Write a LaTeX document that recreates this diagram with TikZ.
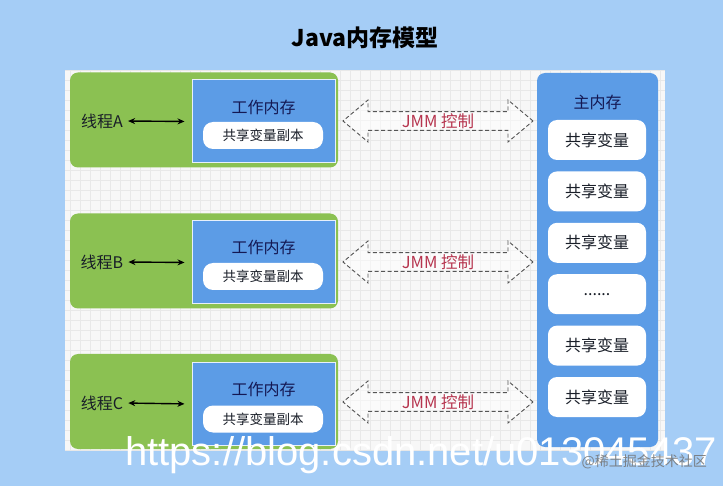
\documentclass[tikz,border=0pt]{standalone}
\usepackage{fontspec}
\setmainfont{Noto Sans CJK SC}
\newfontfamily\urlfont{Liberation Sans}
\usetikzlibrary{shapes.arrows, arrows.meta}

\definecolor{bgblue}{RGB}{165,205,246}
\definecolor{panelgray}{RGB}{247,247,247}
\definecolor{gridgray}{RGB}{232,232,232}
\definecolor{threadgreen}{RGB}{139,193,82}
\definecolor{memblue}{RGB}{92,156,230}
\definecolor{jmmred}{RGB}{182,52,78}
\definecolor{dashgray}{RGB}{85,85,85}
\definecolor{inktext}{RGB}{25,30,40}

\begin{document}
\begin{tikzpicture}[
            x=1pt, y=-1pt, >={Stealth[length=7pt, width=6pt]},
            threadbox/.style={rectangle, fill=threadgreen, minimum width=268pt, minimum height=95pt, rounded corners=8pt},
            threadlabel/.style={font=\fontsize{16}{16}\selectfont, text=inktext, inner sep=1pt},
            workmem/.style={rectangle, draw=white!85!memblue, line width=1pt, fill=memblue, minimum width=143pt, minimum height=83pt},
            memtitle/.style={font=\fontsize{16}{16}\selectfont, text=inktext!80!blue},
            copybox/.style={rectangle, fill=white, minimum width=120pt, minimum height=27pt, rounded corners=10pt, font=\fontsize{13.5}{13.5}\selectfont, text=inktext},
            mainmem/.style={rectangle, fill=memblue, minimum width=121pt, minimum height=374pt, rounded corners=8pt},
            varbox/.style={rectangle, fill=white, minimum width=98pt, minimum height=40pt, rounded corners=9pt, font=\fontsize{16}{16}\selectfont, text=inktext},
            jmmarrow/.style={double arrow, draw=dashgray, line width=0.9pt, dash pattern=on 4pt off 2.5pt, fill=white, fill opacity=0.5, text opacity=1, minimum height=190pt, minimum width=42pt, double arrow head extend=10pt, double arrow tip angle=80, inner sep=0pt, font=\fontsize{16.5}{16.5}\selectfont, text=jmmred},
            syncarrow/.style={<->, line width=1.4pt, shorten <=4pt, shorten >=7pt},
            title/.style={font=\fontsize{23}{23}\selectfont\bfseries, text=black}
        ]

        % ==========================================
        % BACKGROUND AND GRID PANEL
        % ==========================================
        \fill[bgblue] (0,0) rectangle (723,486);
        \useasboundingbox (0,0) rectangle (723,486);
        \fill[panelgray] (65,70) rectangle (665,450);
        \draw[gridgray, line width=0.4pt, step=10pt] (65,70) grid (665,450);

        \node[title] (title) at (365,38) {Java内存模型};

        % ==========================================
        % THREADS WITH WORKING MEMORY
        % ==========================================
        % Thread A
        \node[threadbox] (gA) at (204,120) {};
        \node[threadlabel] (tA) at (102,121) {线程A};
        \node[workmem] (wmA) at (263.5,121.5) {};
        \node[memtitle] (wtA) at (263.5,107) {工作内存};
        \node[copybox] (cpA) at (263,135.5) {共享变量副本};
        \draw[syncarrow] (tA.east) -- (wmA.west);

        % Thread B
        \node[threadbox] (gB) at (204,261) {};
        \node[threadlabel] (tB) at (102,262) {线程B};
        \node[workmem] (wmB) at (263.5,262.5) {};
        \node[memtitle] (wtB) at (263.5,247.5) {工作内存};
        \node[copybox] (cpB) at (263,276.5) {共享变量副本};
        \draw[syncarrow] (tB.east) -- (wmB.west);

        % Thread C
        \node[threadbox] (gC) at (204,401.5) {};
        \node[threadlabel] (tC) at (102,403) {线程C};
        \node[workmem] (wmC) at (263.5,404) {};
        \node[memtitle] (wtC) at (263.5,389) {工作内存};
        \node[copybox] (cpC) at (263,419) {共享变量副本};
        \draw[syncarrow] (tC.east) -- (wmC.west);

        % ==========================================
        % MAIN MEMORY
        % ==========================================
        \node[mainmem] (main) at (597.5,260) {};
        \node[memtitle] (maintitle) at (597.5,102) {主内存};
        \node[varbox] (v1) at (597,140) {共享变量};
        \node[varbox] (v2) at (597,191.4) {共享变量};
        \node[varbox] (v3) at (597,242.8) {共享变量};
        \node[varbox] (v4) at (597,294.2) {......};
        \node[varbox] (v5) at (597,345.6) {共享变量};
        \node[varbox] (v6) at (597,397) {共享变量};

        % ==========================================
        % JMM CONTROL
        % ==========================================
        \node[jmmarrow] (jmmA) at (438,121) {JMM 控制};
        \node[jmmarrow] (jmmB) at (438,262) {JMM 控制};
        \node[jmmarrow] (jmmC) at (438,402) {JMM 控制};

        % ==========================================
        % WATERMARKS
        % ==========================================
        \node[anchor=base west, inner sep=0pt, text=white, font=\urlfont\fontsize{40}{40}\selectfont] (url) at (125,465) {https://blog.csdn.net/u013045437};
        \node[anchor=east, inner sep=0pt, text=gray!90!black, text opacity=0.85, font=\fontsize{14}{14}\selectfont] (site) at (707,462) {@稀土掘金技术社区};

        \end{tikzpicture}
\end{document}
